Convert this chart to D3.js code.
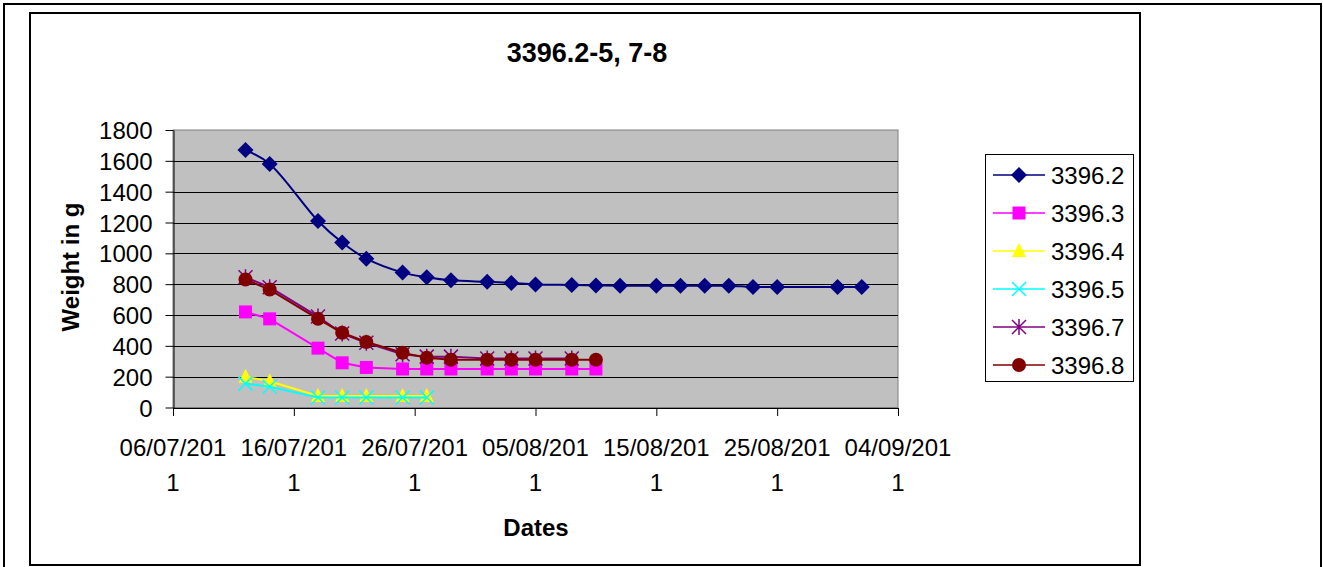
<!doctype html>
<html lang="en">
<head>
<meta charset="UTF-8">
<title>3396.2-5, 7-8</title>
<script src="https://d3js.org/d3.v7.min.js"></script>
<style>
  body { margin: 0; background: #fff; }
  text { font-family: "Liberation Sans", Arial, sans-serif; }
</style>
</head>
<body>
<div id="chart"></div>
<script>
// --- data ---
var seriesNames = ['3396.2', '3396.3', '3396.4', '3396.5', '3396.7', '3396.8'];

var dates2 = ['2011-07-12','2011-07-14','2011-07-18','2011-07-20','2011-07-22','2011-07-25','2011-07-27','2011-07-29',
              '2011-08-01','2011-08-03','2011-08-05','2011-08-08','2011-08-10','2011-08-12','2011-08-15','2011-08-17',
              '2011-08-19','2011-08-21','2011-08-23','2011-08-25','2011-08-30','2011-09-01'];
var weights2 = [1670, 1580, 1210, 1070, 965, 875, 845, 825, 815, 808, 798, 795, 792, 790, 790, 790, 790, 790, 782, 782, 782, 782];

var dates3 = ['2011-07-12','2011-07-14','2011-07-18','2011-07-20','2011-07-22','2011-07-25','2011-07-27','2011-07-29',
              '2011-08-01','2011-08-03','2011-08-05','2011-08-08','2011-08-10'];
var weights3 = [620, 575, 385, 290, 260, 250, 250, 250, 250, 250, 250, 250, 250];

var dates4 = ['2011-07-12','2011-07-14','2011-07-18','2011-07-20','2011-07-22','2011-07-25','2011-07-27'];
var weights4 = [200, 170, 75, 75, 75, 75, 75];

var dates5 = ['2011-07-12','2011-07-14','2011-07-18','2011-07-20','2011-07-22','2011-07-25','2011-07-27'];
var weights5 = [155, 135, 65, 65, 65, 65, 65];

var dates7 = ['2011-07-12','2011-07-14','2011-07-18','2011-07-20','2011-07-22','2011-07-25','2011-07-27','2011-07-29',
              '2011-08-01','2011-08-03','2011-08-05','2011-08-08'];
var weights7 = [845, 780, 590, 480, 420, 345, 330, 330, 318, 318, 318, 318];

var dates8 = ['2011-07-12','2011-07-14','2011-07-18','2011-07-20','2011-07-22','2011-07-25','2011-07-27','2011-07-29',
              '2011-08-01','2011-08-03','2011-08-05','2011-08-08','2011-08-10'];
var weights8 = [830, 765, 575, 485, 425, 355, 322, 310, 310, 310, 310, 310, 310];

var xTickDates = ['2011-07-06','2011-07-16','2011-07-26','2011-08-05','2011-08-15','2011-08-25','2011-09-04'];
var yTicks = [0, 200, 400, 600, 800, 1000, 1200, 1400, 1600, 1800];

var colors = ['#000080', '#FF00FF', '#FFFF00', '#00FFFF', '#800080', '#800000'];
var markers = ['diamond', 'square', 'triangle', 'cross', 'star', 'circle'];

var parse = d3.utcParse('%Y-%m-%d');
var fmt = d3.utcFormat('%d/%m/%Y');

var allDates = [dates2, dates3, dates4, dates5, dates7, dates8];
var allWeights = [weights2, weights3, weights4, weights5, weights7, weights8];
var series = seriesNames.map(function(name, i) {
  return {
    name: name, color: colors[i], marker: markers[i], smooth: i == 0,
    values: allDates[i].map(function(d, j) { return {date: parse(d), w: allWeights[i][j]}; })
  };
});

var W = 1323, H = 567;
var svg = d3.select('#chart').append('svg').attr('width', W).attr('height', H);

// frames
svg.append('rect').attr('x', 4).attr('y', 4).attr('width', 1317).attr('height', 570)
  .attr('fill', 'none').attr('stroke', '#000').attr('stroke-width', 2);
svg.append('rect').attr('x', 30).attr('y', 13).attr('width', 1110).attr('height', 552)
  .attr('fill', '#fff').attr('stroke', '#000').attr('stroke-width', 2);

var plotL = 173, plotR = 898, plotT = 130, plotB = 407.5;

var x = d3.scaleUtc().domain([parse(xTickDates[0]), parse(xTickDates[xTickDates.length - 1])]).range([plotL, plotR]);
var y = d3.scaleLinear().domain([0, 1800]).range([plotB, plotT]);

// plot area
svg.append('rect').attr('x', plotL).attr('y', plotT).attr('width', plotR - plotL).attr('height', plotB - plotT)
  .attr('fill', '#C0C0C0').attr('stroke', '#808080').attr('stroke-width', 1);

svg.append('g').selectAll('line').data(yTicks.slice(1, -1)).enter().append('line')
  .attr('x1', plotL).attr('x2', plotR)
  .attr('y1', function(d) { return Math.round(y(d)) + 0.5; })
  .attr('y2', function(d) { return Math.round(y(d)) + 0.5; })
  .attr('stroke', '#000').attr('stroke-width', 1);

// y axis
var yAxis = d3.axisLeft(y).tickValues(yTicks).tickFormat(d3.format('d'))
  .tickSize(8).tickSizeOuter(0).tickPadding(13);
var gy = svg.append('g').attr('transform', 'translate(' + (plotL + 0.5) + ',0)').call(yAxis);
gy.select('.domain').attr('stroke', '#000');
gy.selectAll('.tick line').attr('stroke', '#000');
gy.selectAll('text').attr('font-size', 24).attr('fill', '#000').attr('dy', '0.36em')
  .style('font-family', '"Liberation Sans", Arial, sans-serif');

// x axis
var xAxis = d3.axisBottom(x).tickValues(xTickDates.map(parse)).tickSize(8).tickSizeOuter(0).tickFormat('');
var gx = svg.append('g').attr('transform', 'translate(0,' + (plotB + 0.5) + ')').call(xAxis);
gx.select('.domain').attr('stroke', '#000');
gx.selectAll('.tick line').attr('stroke', '#000');
var lbl = svg.append('g').selectAll('text').data(xTickDates).enter().append('text')
  .attr('x', function(d) { return x(parse(d)); })
  .attr('y', 456).attr('text-anchor', 'middle').attr('font-size', 24);
lbl.append('tspan').text(function(d) { return fmt(parse(d)).slice(0, 9); });
lbl.append('tspan').attr('x', function(d) { return x(parse(d)); }).attr('dy', 35)
  .text(function(d) { return fmt(parse(d)).slice(9); });

// titles
svg.append('text').attr('x', 587).attr('y', 62).attr('text-anchor', 'middle')
  .attr('font-size', 27).attr('font-weight', 'bold').text('3396.2-5, 7-8');
svg.append('text').attr('x', 536).attr('y', 536).attr('text-anchor', 'middle')
  .attr('font-size', 24).attr('font-weight', 'bold').text('Dates');
svg.append('text').attr('transform', 'translate(79,267) rotate(-90)').attr('text-anchor', 'middle')
  .attr('font-size', 24).attr('font-weight', 'bold').text('Weight in g');

// markers
function drawMarker(g, type, color) {
  if (type == 'diamond') {
    g.append('path').attr('d', 'M0,-8L8,0L0,8L-8,0Z').attr('fill', color);
  } else if (type == 'square') {
    g.append('rect').attr('x', -6.5).attr('y', -6.5).attr('width', 13).attr('height', 13).attr('fill', color);
  } else if (type == 'triangle') {
    g.append('path').attr('d', 'M0,-8L7,6L-7,6Z').attr('fill', color);
  } else if (type == 'cross') {
    g.append('path').attr('d', 'M-7,-7L7,7M-7,7L7,-7').attr('stroke', color).attr('stroke-width', 1.5);
  } else if (type == 'star') {
    g.append('path').attr('d', 'M-7,-7L7,7M-7,7L7,-7M0,-8L0,8').attr('stroke', color).attr('stroke-width', 1.5);
  } else if (type == 'circle') {
    g.append('circle').attr('r', 7).attr('fill', color);
  }
}

var lineSmooth = d3.line().x(function(d) { return x(d.date); }).y(function(d) { return y(d.w); })
  .curve(d3.curveCatmullRom.alpha(0.5));
var lineStraight = d3.line().x(function(d) { return x(d.date); }).y(function(d) { return y(d.w); });

// series order: later ones on top, as in the spreadsheet
series.forEach(function(s) {
  var g = svg.append('g');
  g.append('path').datum(s.values)
    .attr('d', s.smooth ? lineSmooth : lineStraight)
    .attr('fill', 'none').attr('stroke', s.color).attr('stroke-width', 2);
  g.selectAll('.pt').data(s.values).enter().append('g').attr('class', 'pt')
    .attr('transform', function(d) { return 'translate(' + x(d.date) + ',' + y(d.w) + ')'; })
    .each(function() { drawMarker(d3.select(this), s.marker, s.color); });
});

// legend
var leg = svg.append('g');
leg.append('rect').attr('x', 985.5).attr('y', 154.5).attr('width', 148).attr('height', 227)
  .attr('fill', '#fff').attr('stroke', '#000').attr('stroke-width', 1);
series.forEach(function(s, i) {
  var ly = 175 + i * 38;
  leg.append('line').attr('x1', 993).attr('x2', 1045).attr('y1', ly).attr('y2', ly)
    .attr('stroke', s.color).attr('stroke-width', 1.5);
  drawMarker(leg.append('g').attr('transform', 'translate(1019,' + ly + ')'), s.marker, s.color);
  leg.append('text').attr('x', 1051).attr('y', ly + 8.5).attr('font-size', 24).text(s.name);
});
</script>
</body>
</html>
